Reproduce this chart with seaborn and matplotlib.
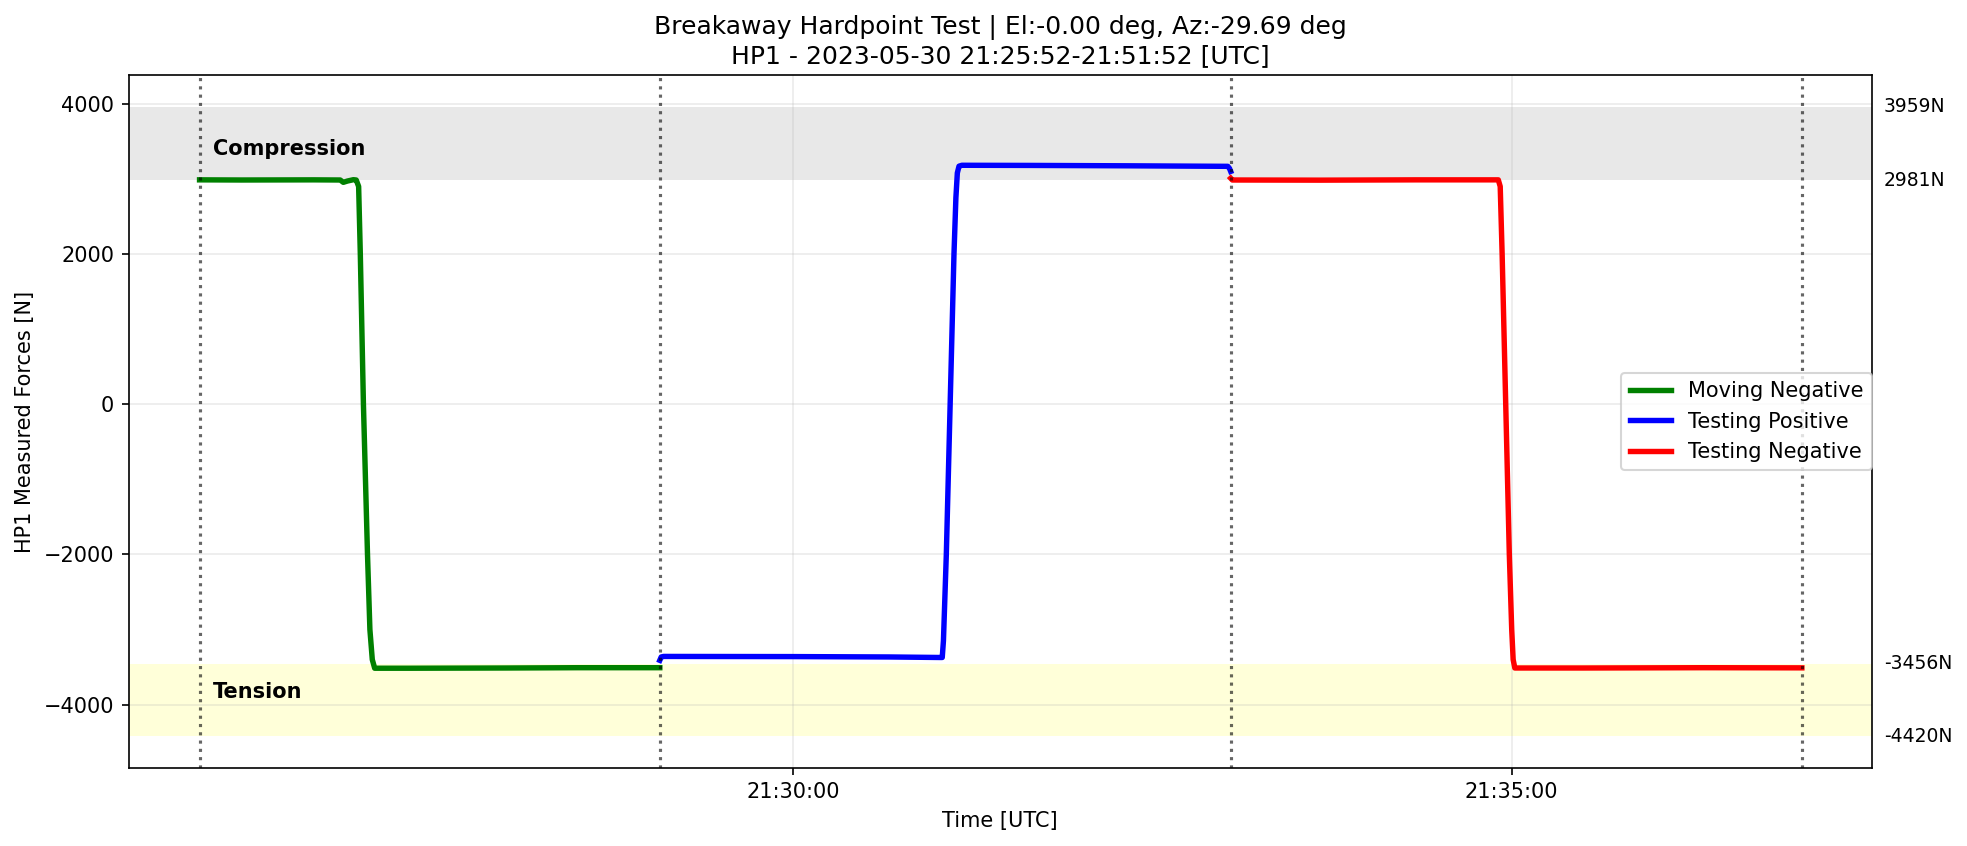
import matplotlib
matplotlib.use("Agg")
import matplotlib.pyplot as plt
import matplotlib.dates as mdates
import matplotlib.transforms as mtransforms
import numpy as np
import pandas as pd
import seaborn as sns

# ---------------- data (seconds relative to 21:30:00 UTC) ----------------
BASE = pd.Timestamp("2023-05-30 21:30:00")

green_t = [-247.7, -230.0, -200.0, -189.0, -187.7, -186.0, -183.5, -182.3, -181.3,
           -180.6, -179.3, -177.6, -176.6, -175.6, -174.6, -160.0, -120.0,
           -90.0, -55.6]
green_f = [2988, 2986, 2988, 2986, 2955, 2972, 2990, 2986, 2900,
           2000, 0, -2000, -3000, -3400, -3515, -3515, -3512,
           -3508, -3508]

blue_t = [-55.6, -55.0, -54.0, 0.0, 40.0, 61.5, 62.3, 62.8, 64.0, 65.6,
          67.2, 68.0, 68.6, 69.3, 70.5, 100.0, 140.0, 181.5, 182.2, 182.7]
blue_f = [-3410, -3365, -3358, -3360, -3365, -3372, -3372, -3150, -2000, 0,
          2000, 2750, 3080, 3170, 3182, 3180, 3175, 3168, 3140, 3100]

red_t = [182.7, 183.4, 220.0, 260.0, 294.4, 295.2, 296.0, 297.5, 299.0,
         300.0, 300.6, 301.3, 330.0, 380.0, 421.1]
red_f = [3010, 2986, 2984, 2988, 2988, 2900, 2000, 0, -2000,
         -3000, -3400, -3512, -3512, -3508, -3510]

series_names = ["Moving Negative", "Testing Positive", "Testing Negative"]
series_colors = ["green", "blue", "red"]

event_t = [-247.7, -55.6, 182.7, 421.1]

compression_lim = [2981, 3959]
tension_lim = [-4420, -3456]
limit_labels = ["3959N", "2981N", "-3456N", "-4420N"]
limit_values = [3959, 2981, -3456, -4420]

title = ("Breakaway Hardpoint Test | El:-0.00 deg, Az:-29.69 deg\n"
         "HP1 - 2023-05-30 21:25:52-21:51:52 [UTC]")


def to_time(sec):
    return BASE + pd.to_timedelta(np.asarray(sec, dtype=float), unit="s")


frames = []
for name, t, f in zip(series_names, [green_t, blue_t, red_t], [green_f, blue_f, red_f]):
    frames.append(pd.DataFrame({"time": to_time(t), "force": f, "series": name}))

# ---------------- figure ----------------
fig = plt.figure(figsize=(1967 / 150, 846 / 150), dpi=150)
ax = fig.add_axes([0.0654, 0.0926, 0.8862, 0.8182])

ax.axhspan(compression_lim[0], compression_lim[1], color="gray", alpha=0.18, lw=0)
ax.axhspan(tension_lim[0], tension_lim[1], color="yellow", alpha=0.15, lw=0)

for df, color in zip(frames, series_colors):
    sns.lineplot(data=df, x="time", y="force", color=color, lw=2.6,
                 label=df["series"].iloc[0], ax=ax, sort=False)

for t in to_time(event_t):
    ax.axvline(t, color="k", alpha=0.6, ls=":", lw=1.5)

ax.text(to_time([event_t[0] + 5.6])[0], 3400, "Compression", fontweight="bold",
        fontsize=10, va="center", ha="left")
ax.text(to_time([event_t[0] + 5.6])[0], -3830, "Tension", fontweight="bold",
        fontsize=10, va="center", ha="left")

trans = mtransforms.blended_transform_factory(ax.transAxes, ax.transData)
for lab, val in zip(limit_labels, limit_values):
    ax.text(1.007, val, lab, transform=trans, va="center", ha="left", fontsize=9)

ax.set_xlim(to_time([-277.3])[0], to_time([450.3])[0])
ax.set_ylim(-4839, 4378)
ax.xaxis.set_major_locator(mdates.MinuteLocator(byminute=range(0, 60, 5)))
ax.xaxis.set_major_formatter(mdates.DateFormatter("%H:%M:%S"))
ax.grid(True, alpha=0.25)

ax.set_xlabel("Time [UTC]")
ax.set_ylabel("HP1 Measured Forces [N]")
ax.set_title(title, fontsize=12)
ax.legend(loc="center right", borderaxespad=0)

fig.savefig("out.png", dpi=150)
